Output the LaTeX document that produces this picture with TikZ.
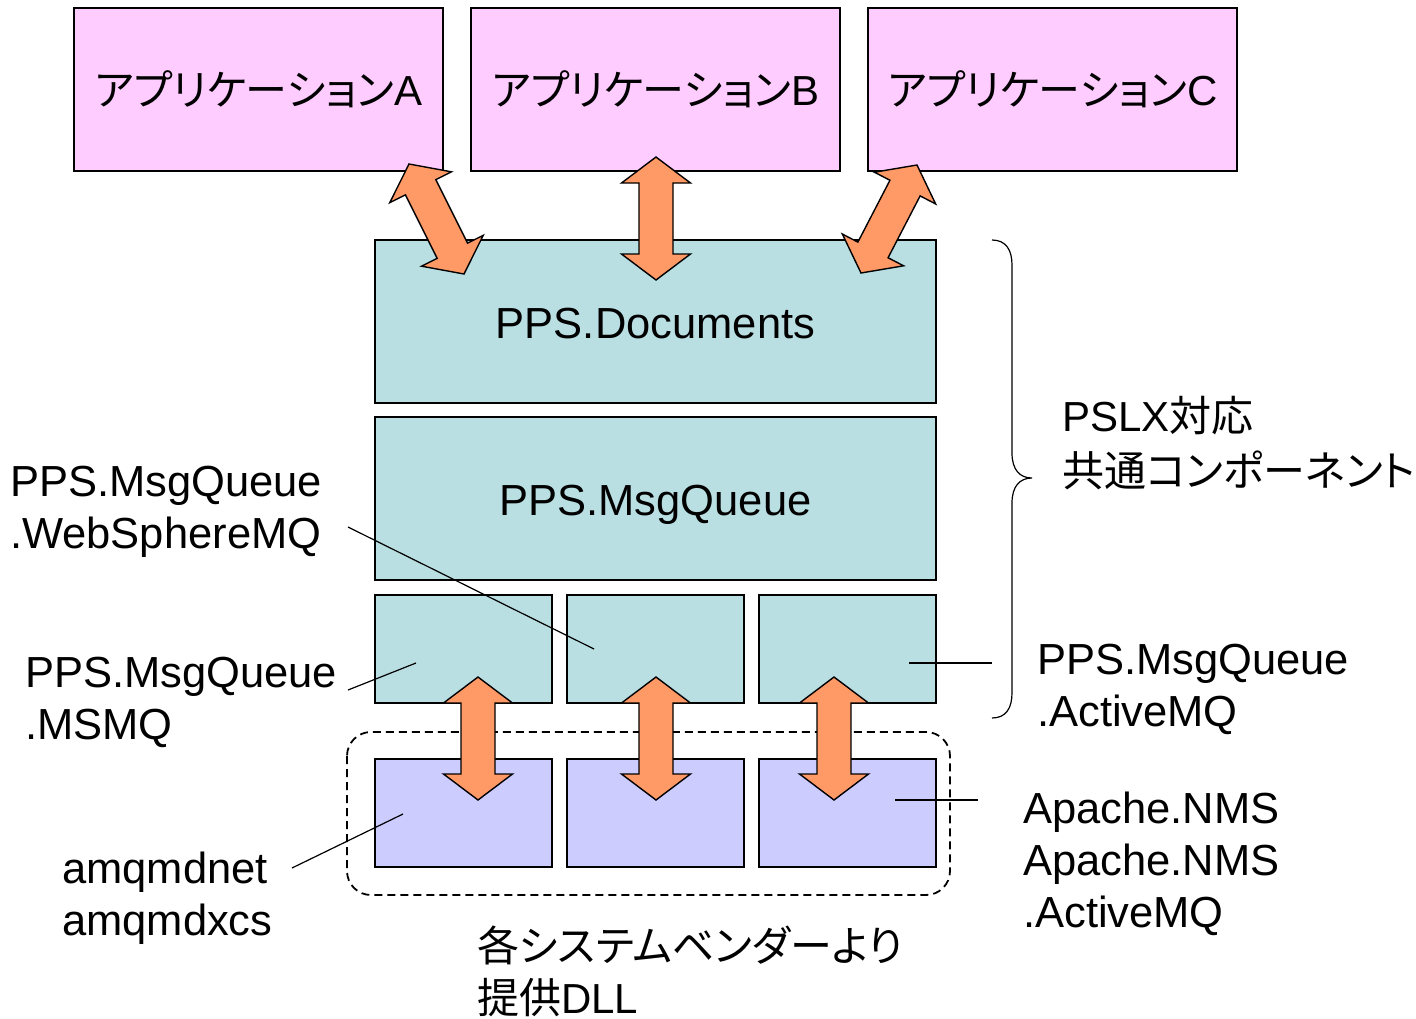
\documentclass[tikz,border=0pt]{standalone}
\usepackage{fontspec}
\setmainfont{Liberation Sans}
\newfontfamily\jp[RawFeature=+palt]{Noto Sans CJK JP}
\usetikzlibrary{calc}
\definecolor{apppink}{RGB}{255,204,255}
\definecolor{compcyan}{RGB}{185,223,227}
\definecolor{dllblue}{RGB}{204,204,255}
\definecolor{arroworange}{RGB}{255,153,102}
\tikzset{
  box/.style={draw=black, line width=1.2pt, inner sep=0pt},
  appbox/.style={box, fill=apppink, minimum width=369, minimum height=163},
  bigbox/.style={box, fill=compcyan, minimum width=561, minimum height=163},
  smallbox/.style={box, fill=compcyan, minimum width=177, minimum height=108},
  dllbox/.style={box, fill=dllblue, minimum width=177, minimum height=108},
  blockarrow/.style={draw=black, fill=arroworange, line width=1.4pt, line join=miter},
  leader/.style={draw=black, line width=1.2pt},
  lbl/.style={inner sep=0pt, align=left, anchor=west, font=\fontsize{43.5}{52}\selectfont},
  boxtext/.style={inner sep=0pt, font=\fontsize{43.5}{52}\selectfont}
}
\newcommand{\dblarrow}[2]{%
  \draw[blockarrow] (#1)
    -- ($(#1)!26pt!(#2)!34.5pt!90:(#2)$)
    -- ($(#1)!26pt!(#2)!17pt!90:(#2)$)
    -- ($(#2)!26pt!(#1)!17pt!-90:(#1)$)
    -- ($(#2)!26pt!(#1)!34.5pt!-90:(#1)$)
    -- (#2)
    -- ($(#2)!26pt!(#1)!34.5pt!90:(#1)$)
    -- ($(#2)!26pt!(#1)!17pt!90:(#1)$)
    -- ($(#1)!26pt!(#2)!17pt!-90:(#2)$)
    -- ($(#1)!26pt!(#2)!34.5pt!-90:(#2)$)
    -- cycle;}
\begin{document}
\begin{tikzpicture}[x=1pt, y=-1pt]
\useasboundingbox[fill=white] (0,0) rectangle (1416,1018);

% application boxes
\node[appbox] (appA) at (258.5,89.5) {\fontsize{42}{52}\selectfont{\jp アプリケーション}A};
\node[appbox] (appB) at (655.5,89.5) {\fontsize{42}{52}\selectfont{\jp アプリケーション}B};
\node[appbox] (appC) at (1052.5,89.5) {\fontsize{42}{52}\selectfont{\jp アプリケーション}C};

% component boxes
\node[bigbox] (docs) at (655.5,321.5) {};
\node[boxtext] (docstxt) at (655.5,323.5) {PPS.Documents};
\node[bigbox] (mq) at (655.5,498.5) {};
\node[boxtext] (mqtxt) at (655.5,505) {PPS.MsgQueue};
\node[smallbox] (msmq) at (463.5,649) {};
\node[smallbox] (wsmq) at (655.5,649) {};
\node[smallbox] (amq) at (847.5,649) {};

% vendor DLL group
\draw[line width=1.8pt, dash pattern=on 8pt off 5pt, rounded corners=24pt] (347,732) rectangle (950,895);
\node[dllbox] (dllA) at (463.5,813) {};
\node[dllbox] (dllB) at (655.5,813) {};
\node[dllbox] (dllC) at (847.5,813) {};

% arrow tips
\coordinate (t1a) at (409,164); \coordinate (t1b) at (464,274);
\coordinate (t2a) at (656,157); \coordinate (t2b) at (656,280);
\coordinate (t3a) at (917,165); \coordinate (t3b) at (861,273);
\coordinate (b1a) at (478,677); \coordinate (b1b) at (478,800);
\coordinate (b2a) at (656,677); \coordinate (b2b) at (656,800);
\coordinate (b3a) at (834,677); \coordinate (b3b) at (834,800);
\dblarrow{t1a}{t1b}
\dblarrow{t2a}{t2b}
\dblarrow{t3a}{t3b}
\dblarrow{b1a}{b1b}
\dblarrow{b2a}{b2b}
\dblarrow{b3a}{b3b}

% brace
\draw[line width=1.2pt] (992,240) .. controls (1006,240) and (1012,250) .. (1012,265)
  -- (1012,453) .. controls (1012,470) and (1020,478) .. (1032,478)
  .. controls (1020,478) and (1012,486) .. (1012,503)
  -- (1012,693) .. controls (1012,708) and (1006,718) .. (992,718);

% labels
\node[lbl, font=\fontsize{42}{55}\selectfont] (pslx) at (1062,443) {PSLX{\jp 対応}\\{\jp 共通コンポーネント}};
\node[lbl] (lwsmq) at (10,511.5) {PPS.MsgQueue\\.WebSphereMQ};
\node[lbl] (lmsmq) at (25,702) {PPS.MsgQueue\\.MSMQ};
\node[lbl] (lamq) at (1037,689.5) {PPS.MsgQueue\\.ActiveMQ};
\node[lbl] (lapache) at (1023,864) {Apache.NMS\\Apache.NMS\\.ActiveMQ};
\node[lbl] (lamqm) at (62,898) {amqmdnet\\amqmdxcs};
\node[lbl, font=\fontsize{42}{52}\selectfont] (lvendor) at (477,971) {{\jp 各システムベンダーより}\\{\jp 提供}DLL};

% leader lines
\coordinate (e1) at (594,649); \coordinate (s1) at (348,527);
\coordinate (e2) at (416,663); \coordinate (s2) at (348,690);
\coordinate (e3) at (909,663); \coordinate (s3) at (992,663);
\coordinate (e4) at (895,800); \coordinate (s4) at (978,800);
\coordinate (e5) at (403,814); \coordinate (s5) at (292,868);
\draw[leader] (s1) -- (e1);
\draw[leader] (s2) -- (e2);
\draw[leader] (s3) -- (e3);
\draw[leader] (s4) -- (e4);
\draw[leader] (s5) -- (e5);
\end{tikzpicture}
\end{document}
